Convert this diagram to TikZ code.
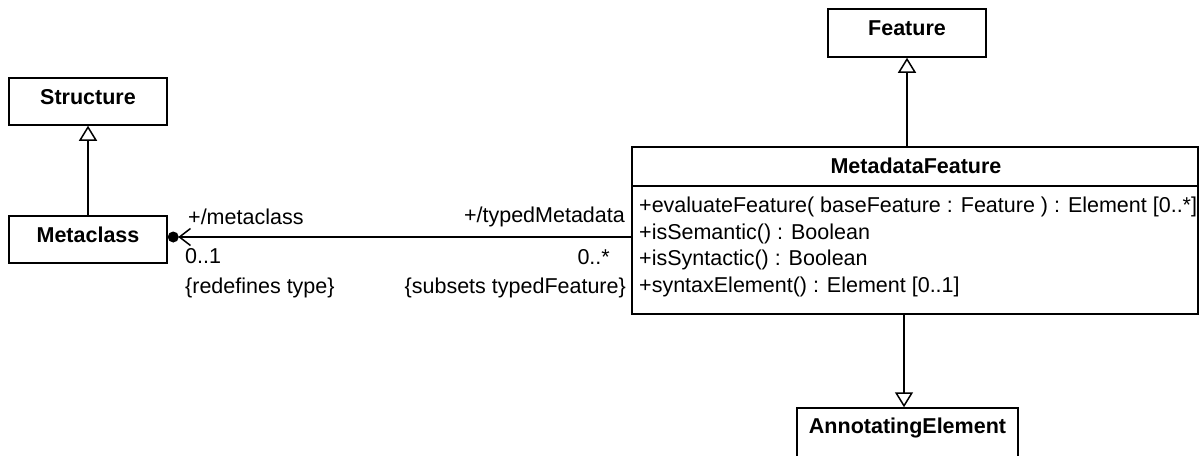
\documentclass[tikz,border=0pt]{standalone}
\usepackage{fontspec}
\setmainfont{Liberation Sans}
\usetikzlibrary{arrows.meta}
\tikzset{
  cls/.style={draw, line width=1.5pt, inner sep=0pt, rectangle},
  txt/.style={inner sep=0pt, font=\fontsize{21.5pt}{26.6pt}\selectfont},
  ttl/.style={inner sep=0pt, font=\fontsize{21.5pt}{26.6pt}\selectfont\bfseries},
  gen/.style={line width=1.5pt, -{Triangle[open, length=15pt, width=18pt, line width=1.5pt]}},
  assoc/.style={line width=1.5pt, -{Straight Barb[length=11pt, width=17pt, line width=1.5pt]}},
}
\begin{document}
\begin{tikzpicture}[x=1pt, y=-1pt]
\useasboundingbox (0,0) rectangle (1201,455);
\clip (0,0) rectangle (1201,455);
% class boxes
\node[cls, minimum width=158pt, minimum height=47pt] (structure) at (88,101.5) {};
\node[ttl] (structureT) at (88,97) {Structure};
\node[cls, minimum width=158pt, minimum height=47pt] (metaclass) at (88,239.5) {};
\node[ttl] (metaclassT) at (88,235) {Metaclass};
\node[cls, minimum width=158pt, minimum height=48pt] (feature) at (907,33) {};
\node[ttl] (featureT) at (907,28.5) {Feature};
\node[cls, minimum width=221pt, minimum height=50pt] (ae) at (907.5,433) {};
\node[ttl] (aeT) at (907.5,427.5) {AnnotatingElement};
% MetadataFeature
\node[cls, minimum width=566pt, minimum height=167pt] (mf) at (915,230.5) {};
\node[ttl] (mfT) at (916,165.5) {MetadataFeature};
\draw[line width=1.5pt] (mf.west |- 0,186) -- (mf.east |- 0,186);
\node[txt, anchor=north west, align=left] (ops) at (639,197) {+evaluateFeature( baseFeature : Feature ) : Element [0..*]\\+isSemantic() : Boolean\\+isSyntactic() : Boolean\\+syntaxElement() : Element [0..1]};
% generalizations
\draw[gen] (metaclass.north) -- (structure.south);
\draw[gen] (feature.south |- mf.north) -- (feature.south);
\draw[gen] ([xshift=-3.5pt]ae.north |- mf.south) -- ([xshift=-3.5pt]ae.north);
% association
\draw[assoc, shorten >=10.5pt] (mf.west |- 0,237) -- ([yshift=2.5pt]metaclass.east);
\fill ([xshift=5.5pt,yshift=2.5pt]metaclass.east) circle (5.5pt);
% association end labels
\node[txt, anchor=west] (l1) at (188,217) {+/metaclass};
\node[txt, anchor=west] (l2) at (185,256) {0..1};
\node[txt, anchor=west] (l3) at (185,288) {\{redefines type\}};
\node[txt, anchor=east] (r1) at (625,217) {+/typedMetadata};
\node[txt, anchor=east] (r2) at (610,257) {0..*};
\node[txt, anchor=east] (r3) at (626,288) {\{subsets typedFeature\}};
\end{tikzpicture}
\end{document}
